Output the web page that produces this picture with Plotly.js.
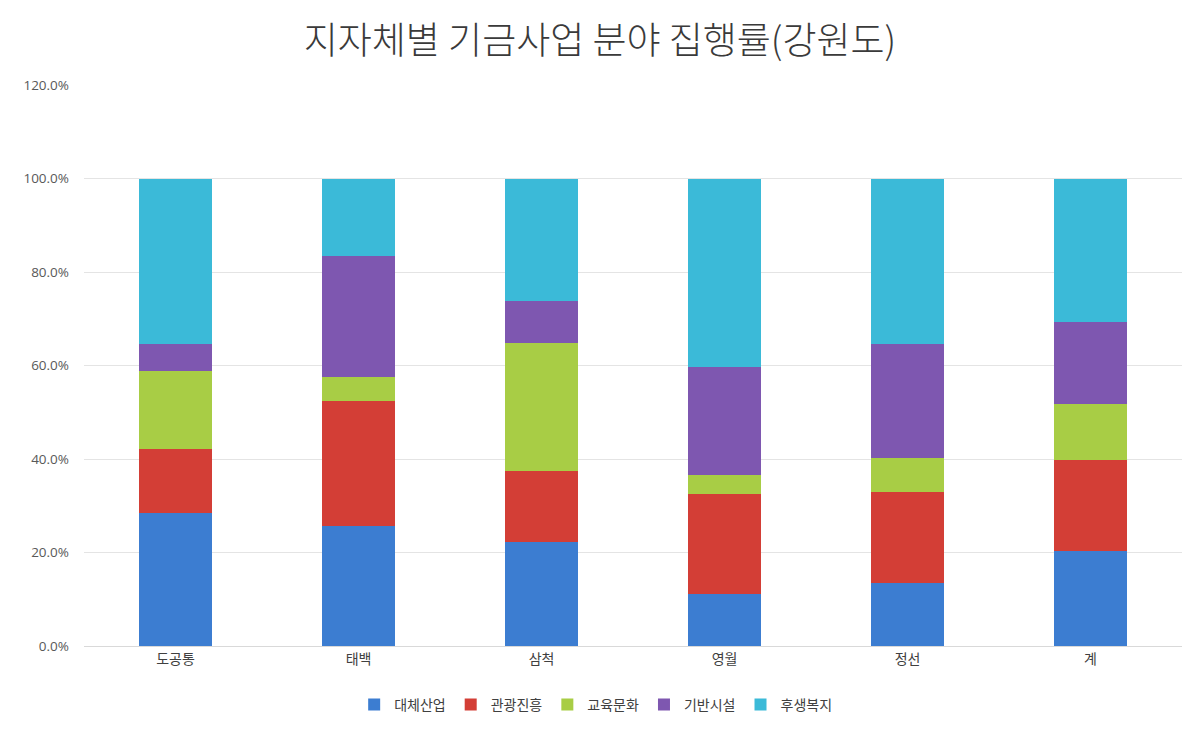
<!DOCTYPE html>
<html><head><meta charset="utf-8">
<script src="https://cdn.plot.ly/plotly-3.0.1.min.js"></script>
<style>body{margin:0;background:#fff}#c{width:1200px;height:739px}</style>
</head><body><div id="c"></div>
<script>
const categories = ['도공통','태백','삼척','영월','정선','계'];
const seriesNames = ['대체산업','관광진흥','교육문화','기반시설','후생복지'];
const 대체산업 = [28.5, 25.7, 22.3, 11.1, 13.5, 20.3];
const 관광진흥 = [13.7, 26.8, 15.2, 21.4, 19.5, 19.5];
const 교육문화 = [16.7, 5.1, 27.4, 4.1, 7.3, 12.0];
const 기반시설 = [5.8, 25.9, 9.0, 23.1, 24.2, 17.6];
const 후생복지 = [35.3, 16.5, 26.1, 40.3, 35.5, 30.6];
const colors = ['#3C7DD1','#D33E36','#A8CD45','#7E57B0','#3BBAD8'];
const values = [대체산업, 관광진흥, 교육문화, 기반시설, 후생복지];
const yTicks = [0,20,40,60,80,100,120];
const yTickText = yTicks.map(v => v.toFixed(1) + '%');

const traces = seriesNames.map((n,i) => ({
  type:'bar', name:n, x:categories, y:values[i],
  marker:{color:colors[i]}, hoverinfo:'x+y+name'
}));
const font = "'Noto Sans CJK KR', 'Noto Sans', sans-serif";
Plotly.newPlot('c', traces, {
  barmode:'stack', bargap:0.6,
  width:1200, height:739,
  paper_bgcolor:'#fff', plot_bgcolor:'#fff',
  margin:{l:84, r:18, t:85, b:93},
  title:{text:'지자체별 기금사업 분야 집행률(강원도)', x:0.5, xanchor:'center', y:0.945, yanchor:'middle',
    font:{family:font, size:37, color:'#3a3a3a', weight:300}},
  font:{family:font, color:'#595959'},
  xaxis:{type:'category', showgrid:false, showline:true, linecolor:'#d9d9d9', linewidth:1,
    ticks:'', tickfont:{size:14, color:'#404040'}, ticklen:0},
  yaxis:{range:[0,120], tickvals:yTicks, ticktext:yTickText, showgrid:true, gridcolor:'#e4e4e4',
    zeroline:false, showline:false, tickfont:{size:13.5, color:'#595959', family:"'Open Sans', sans-serif"}, ticks:'', ticklabelstandoff:14},
  legend:{orientation:'h', x:0.466, xanchor:'center', y:-0.105, yanchor:'middle',
    font:{size:14, color:'#404040'}, itemwidth:30, traceorder:'normal', itemclick:false},
  showlegend:true
}, {displayModeBar:false, staticPlot:true});
</script></body></html>
